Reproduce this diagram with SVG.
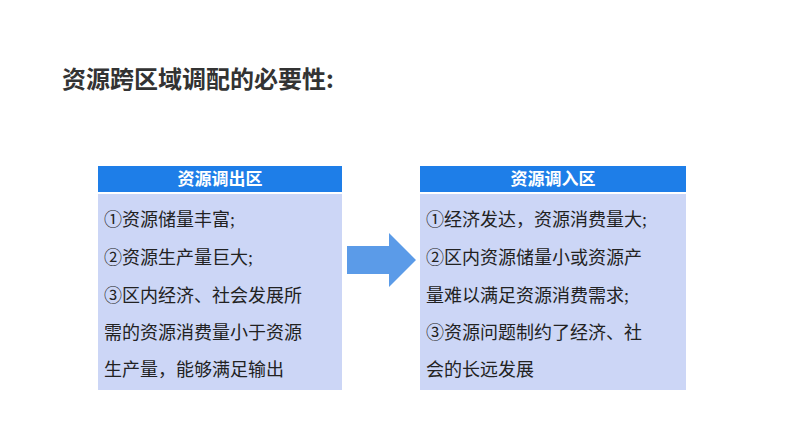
<svg xmlns="http://www.w3.org/2000/svg" width="794" height="447" viewBox="0 0 794 447">
<style>
text{font-family:"Liberation Serif","Noto Sans CJK SC",serif;}
.h{fill:#1E7EE8}.b{fill:#CCD6F6}
.ht{fill:#fff;font-size:17px;font-weight:bold;text-anchor:middle}
.t{fill:#222;font-size:18px}
</style>
<rect width="794" height="447" fill="#fff"/>
<text x="62" y="88" font-size="24" font-weight="bold" fill="#333" style="font-family:'Noto Sans CJK SC',sans-serif">资源跨区域调配的必要性:</text>
<g id="out">
<rect class="h" x="98" y="166" width="244" height="26"/>
<rect class="b" x="98" y="194" width="244" height="196"/>
<text class="ht" x="220" y="185">资源调出区</text>
<text class="t" x="104" y="226">①资源储量丰富;</text>
<text class="t" x="104" y="264">②资源生产量巨大;</text>
<text class="t" x="104" y="302">③区内经济、社会发展所</text>
<text class="t" x="104" y="339">需的资源消费量小于资源</text>
<text class="t" x="104" y="376">生产量，能够满足输出</text>
</g>
<g id="in">
<rect class="h" x="420" y="166" width="266" height="26"/>
<rect class="b" x="420" y="194" width="266" height="196"/>
<text class="ht" x="553" y="185">资源调入区</text>
<text class="t" x="426" y="226">①经济发达，资源消费量大;</text>
<text class="t" x="426" y="264">②区内资源储量小或资源产</text>
<text class="t" x="426" y="302">量难以满足资源消费需求;</text>
<text class="t" x="426" y="339">③资源问题制约了经济、社</text>
<text class="t" x="426" y="376">会的长远发展</text>
</g>
<g id="connectors">
<polygon points="347,246 389,246 389,233 416,260 389,287 389,274 347,274" fill="#5B9BE8"/>
</g>
</svg>
